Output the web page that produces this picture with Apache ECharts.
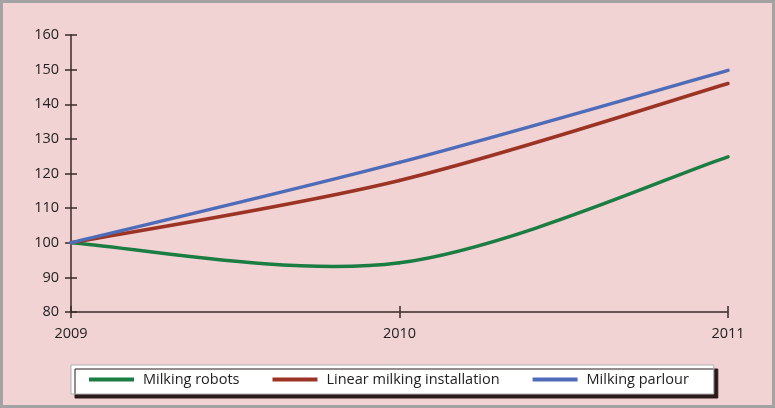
<!DOCTYPE html>
<html><head><meta charset="utf-8">
<script src="https://cdn.jsdelivr.net/npm/echarts@6/dist/echarts.min.js"></script>
<style>
html,body{margin:0;padding:0;}
#wrap{width:775px;height:408px;box-sizing:border-box;border:3px solid #a3a3a3;background:#f2d3d4;position:relative;}
#c{position:absolute;left:-3px;top:-3px;width:775px;height:408px;}
</style></head>
<body><div id="wrap"><div id="c"></div></div>
<script>
const years = ['2009', '2010', '2011'];
const milkingRobots = [100, 94.2, 124.8];
const linearMilking = [100, 118, 146];
const milkingParlour = [100, 123.2, 149.8];
const yTicks = {min: 80, max: 160, interval: 10};
const seriesNames = ['Milking robots', 'Linear milking installation', 'Milking parlour'];
const seriesColors = ['#1c7d43', '#9c3425', '#4f6cb8'];

const chart = echarts.init(document.getElementById('c'));
const font = 'Open Sans';
const axisColor = '#3b2a2a';

// Excel-style smoothed segment (Catmull-Rom converted to Bezier), built via the axis scales
function smoothSeries(name, values, color) {
  return {
    name: name, type: 'custom',
    data: values.map((v, i) => [i, v]),
    itemStyle: {color: color},
    renderItem: function (params, api) {
      const i = params.dataIndex;
      if (i >= values.length - 1) return null;
      const P = values.map((v, k) => api.coord([k, v]));
      const p0 = P[Math.max(i - 1, 0)], p1 = P[i], p2 = P[i + 1], p3 = P[Math.min(i + 2, P.length - 1)];
      return {
        type: 'bezierCurve',
        shape: {
          x1: p1[0], y1: p1[1], x2: p2[0], y2: p2[1],
          cpx1: p1[0] + (p2[0] - p0[0]) / 6, cpy1: p1[1] + (p2[1] - p0[1]) / 6,
          cpx2: p2[0] - (p3[0] - p1[0]) / 6, cpy2: p2[1] - (p3[1] - p1[1]) / 6
        },
        style: {stroke: color, lineWidth: 3.5, fill: null, lineCap: 'round'}
      };
    }
  };
}

chart.setOption({
  animation: false,
  textStyle: {fontFamily: font},
  grid: {left: 71, right: 47, top: 35, bottom: 96},
  legend: {
    left: 71, top: 365,
    padding: [7, 25, 7, 18],
    backgroundColor: '#ffffff',
    borderColor: '#b0b0b0', borderWidth: 1,
    shadowColor: '#2a1a1a', shadowOffsetX: 4, shadowOffsetY: 4, shadowBlur: 0,
    itemWidth: 45, itemHeight: 4, itemGap: 33,
    icon: 'rect',
    textStyle: {fontFamily: font, fontSize: 14.5, color: '#222', padding: [0, 0, 0, 4]},
    data: seriesNames
  },
  xAxis: [{
    type: 'category', data: years, boundaryGap: false,
    axisLine: {lineStyle: {color: axisColor, width: 1.5}},
    axisTick: {length: 6, lineStyle: {color: axisColor, width: 1.5}},
    axisLabel: {fontFamily: font, fontSize: 14.5, color: '#222', margin: 14}
  }, {
    type: 'category', data: years, boundaryGap: false, position: 'bottom',
    axisLine: {show: false},
    axisTick: {inside: true, length: 6, lineStyle: {color: axisColor, width: 1.5}},
    axisLabel: {show: false}
  }],
  yAxis: [{
    type: 'value', min: yTicks.min, max: yTicks.max, interval: yTicks.interval,
    splitLine: {show: false},
    axisLine: {show: true, lineStyle: {color: axisColor, width: 1.5}},
    axisTick: {show: true, length: 6, lineStyle: {color: axisColor, width: 1.5}},
    axisLabel: {fontFamily: font, fontSize: 14.5, color: '#222', margin: 12}
  }, {
    type: 'value', min: yTicks.min, max: yTicks.max, interval: yTicks.interval, position: 'left',
    splitLine: {show: false},
    axisLine: {show: false},
    axisTick: {show: true, inside: true, length: 6, lineStyle: {color: axisColor, width: 1.5}},
    axisLabel: {show: false}
  }],
  series: [
    smoothSeries(seriesNames[0], milkingRobots, seriesColors[0]),
    smoothSeries(seriesNames[1], linearMilking, seriesColors[1]),
    smoothSeries(seriesNames[2], milkingParlour, seriesColors[2])
  ]
});
</script></body></html>
